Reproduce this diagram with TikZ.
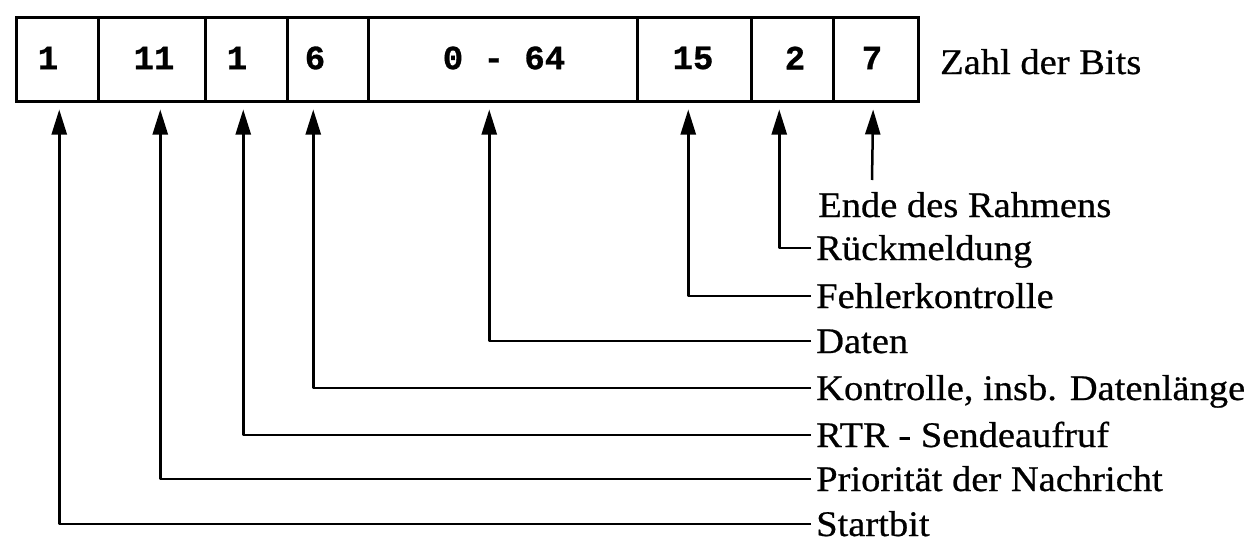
\documentclass[tikz,border=0pt]{standalone}
\usepackage{fontspec}
\setmainfont{Liberation Serif}[FakeStretch=1.07, FakeBold=0.6]
\newfontfamily\cellfont{Liberation Mono}[FakeBold=0.8]
\usetikzlibrary{arrows.meta,calc}
\tikzset{
  cell/.style={draw, line width=2.5pt, minimum height=84pt, inner sep=0pt, anchor=north west},
  num/.style={font=\cellfont\bfseries\fontsize{34}{36}\selectfont, inner sep=0pt},
  lab/.style={font=\fontsize{36}{40}\selectfont, anchor=west, inner sep=0pt, text height=24pt, text depth=0pt},
  arr/.style={line width=2.5pt, line join=round, -{Triangle[length=25pt,width=15pt]}, shorten >=7pt}
}
\begin{document}
\begin{tikzpicture}[x=1pt,y=-1pt]
\useasboundingbox (0,0) rectangle (1258,546);
% cells
\node[cell, minimum width=82pt]  (c1) at (15,16)  {};
\node[cell, minimum width=107pt] (c2) at (97,16)  {};
\node[cell, minimum width=82pt]  (c3) at (204,16) {};
\node[cell, minimum width=81pt]  (c4) at (286,16) {};
\node[cell, minimum width=269pt] (c5) at (367,16) {};
\node[cell, minimum width=114pt] (c6) at (636,16) {};
\node[cell, minimum width=82pt]  (c7) at (750,16) {};
\node[cell, minimum width=85pt]  (c8) at (832,16) {};
% numbers
\node[num] (n1) at (48,58)  {1};
\node[num] (n2) at (154,58) {11};
\node[num] (n3) at (237,58) {1};
\node[num] (n4) at (315,58) {6};
\node[num] (n5) at (504,58) {0 - 64};
\node[num] (n6) at (693,58) {15};
\node[num] (n7) at (795,58) {2};
\node[num] (n8) at (872,58) {7};
\node[lab] (zahl) at (940,62) {Zahl\ der\ Bits};
% labels
\node[lab] (lEnde)   at (818,205) {Ende des Rahmens};
\node[lab] (lRueck)  at (816,248) {Rückmeldung};
\node[lab] (lFehler) at (816,296) {Fehlerkontrolle};
\node[lab] (lDaten)  at (816,341) {Daten};
\node[lab] (lKontr)  at (816,388) {Kontrolle, insb. Datenlänge};
\node[lab] (lRTR)    at (816,435) {RTR - Sendeaufruf};
\node[lab] (lPrio)   at (816,479) {Priorität der Nachricht};
\node[lab] (lStart)  at (816,524) {Startbit};
% connectors
\coordinate (e8) at (872,180);
\draw[arr] (e8) -- ($(c8.south)+(-2.5,0)$);
\draw[arr] ([xshift=-5pt]lRueck.west)  -| ($(c7.south)+(-13,0)$);
\draw[arr] ([xshift=-5pt]lFehler.west) -| ($(c6.south)+(-6,0)$);
\draw[arr] ([xshift=-5pt]lDaten.west)  -| ($(c5.south)+(-13.5,0)$);
\draw[arr] ([xshift=-5pt]lKontr.west)  -| ($(c4.south)+(-14.5,0)$);
\draw[arr] ([xshift=-5pt]lRTR.west)    -| ($(c3.south)+(-3,0)$);
\draw[arr] ([xshift=-5pt]lPrio.west)   -| ($(c2.south)+(8.5,0)$);
\draw[arr] ([xshift=-5pt]lStart.west)  -| ($(c1.south)+(2,0)$);
\end{tikzpicture}
\end{document}
